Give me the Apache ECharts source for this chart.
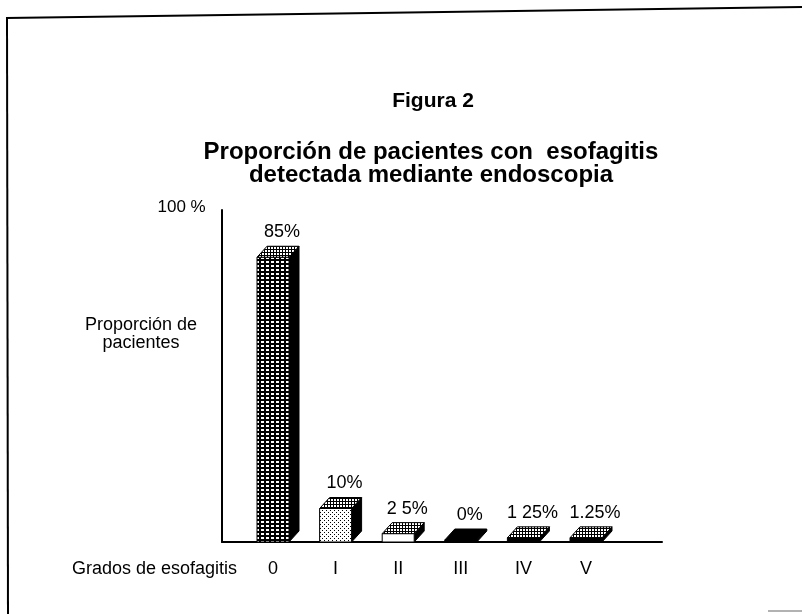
<!DOCTYPE html>
<html>
<head>
<meta charset="utf-8">
<script src="https://cdn.jsdelivr.net/npm/echarts@6/dist/echarts.min.js"></script>
<style>
html,body{margin:0;padding:0;background:#fff;}
#chart{width:802px;height:614px;}
</style>
</head>
<body>
<div id="chart"></div>
<script>
// ---- data ----
const categories = ['0', 'I', 'II', 'III', 'IV', 'V'];
const values = [85, 10, 2.5, 0, 1.25, 1.25];
const valueLabels = ['85%', '10%', '2 5%', '0%', '1 25%', '1.25%'];
const yMaxLabel = '100 %';
const titleText = 'Figura 2';
const subtitleLines = ['Proporción de pacientes con  esofagitis', 'detectada mediante endoscopia'];
const yAxisTitle = ['Proporción de', 'pacientes'];
const xAxisTitle = 'Grados de esofagitis';

// ---- styles ----
const FONT = '"Liberation Sans", Arial, Helvetica, sans-serif';
function makePattern(w, h, draw) {
  const c = document.createElement('canvas');
  c.width = w; c.height = h;
  const g = c.getContext('2d');
  draw(g);
  return { image: c, repeat: 'repeat' };
}
const patterns = {
  dense: makePattern(5, 4, g => { g.fillStyle = '#000'; g.fillRect(0,0,5,4); g.fillStyle = '#fff'; g.fillRect(1,1,3,2); }),
  hatch: makePattern(3, 3, g => { g.fillStyle = '#000'; g.fillRect(0,0,3,3); g.fillStyle = '#fff'; g.fillRect(1,1,2,2); }),
  stipple: makePattern(4, 4, g => { g.fillStyle = '#fff'; g.fillRect(0,0,4,4); g.fillStyle = '#000'; g.fillRect(0,0,1,1); g.fillRect(2,2,1,1); }),
  white: '#fff',
  black: '#000'
};
const faceStyles = [
  { front: 'dense', top: 'hatch' },
  { front: 'stipple', top: 'hatch' },
  { front: 'white', top: 'hatch' },
  { front: 'black', top: 'black' },
  { front: 'black', top: 'hatch' },
  { front: 'black', top: 'hatch' }
];
const BAR_W = 32, DX = 10, DY = -11, MIN_H = 2;

const chart = echarts.init(document.getElementById('chart'), null, { renderer: 'canvas' });

function renderBar(params, api) {
  const i = params.dataIndex;
  const top = api.coord([api.value(0), api.value(1)]);
  const base = api.coord([api.value(0), 0]);
  const xl = top[0] - BAR_W / 2;
  const xr = xl + BAR_W;
  const yb = base[1];
  const yt = Math.min(top[1], yb - MIN_H);
  const st = faceStyles[i];
  const stroke = { stroke: '#000', lineWidth: 1 };
  return {
    type: 'group',
    children: [
      { type: 'polygon', shape: { points: [[xr, yt], [xr + DX, yt + DY], [xr + DX, yb + DY], [xr, yb]] },
        style: Object.assign({ fill: '#000' }, stroke) },
      { type: 'rect', shape: { x: xl, y: yt, width: BAR_W, height: yb - yt },
        style: Object.assign({ fill: patterns[st.front] }, stroke) },
      { type: 'polygon', shape: { points: [[xl, yt], [xr, yt], [xr + DX, yt + DY], [xl + DX, yt + DY]] },
        style: Object.assign({ fill: patterns[st.top] }, stroke) },
      { type: 'text', style: { text: valueLabels[i], x: top[0] + 9, y: yt + DY - 14,
        textAlign: 'center', textVerticalAlign: 'middle', font: '18px ' + FONT, fill: '#000' } }
    ]
  };
}

const option = {
  backgroundColor: '#fff',
  animation: false,
  grid: [
    { left: 241.7, width: 375.6, top: 207, bottom: 72, containLabel: false },
    { left: 222, right: 140, top: 210, bottom: 72, containLabel: false }
  ],
  xAxis: [
    { type: 'category', gridIndex: 0, data: categories, boundaryGap: true,
      axisLine: { show: false }, axisTick: { show: false },
      axisLabel: { color: '#000', fontSize: 18, fontFamily: FONT, margin: 18 } },
    { type: 'value', gridIndex: 1, min: 0, max: 1,
      axisLine: { show: true, lineStyle: { color: '#000', width: 2 } },
      axisTick: { show: false }, axisLabel: { show: false }, splitLine: { show: false } }
  ],
  yAxis: [
    { type: 'value', gridIndex: 0, min: 0, max: 100, interval: 100,
      axisLine: { show: false }, axisTick: { show: false }, splitLine: { show: false },
      axisLabel: { color: '#000', fontSize: 17, fontFamily: FONT, margin: 36,
        formatter: v => (v === 100 ? yMaxLabel : '') } },
    { type: 'value', gridIndex: 1, min: 0, max: 1,
      axisLine: { show: true, lineStyle: { color: '#000', width: 2 } },
      axisTick: { show: false }, axisLabel: { show: false }, splitLine: { show: false } }
  ],
  series: [
    { type: 'custom', xAxisIndex: 0, yAxisIndex: 0, clip: false,
      renderItem: renderBar,
      encode: { x: 0, y: 1 },
      data: values.map((v, i) => [i, v]) }
  ],
  graphic: [
    { type: 'polyline', shape: { points: [[6, 18], [300, 14], [802, 7]] }, style: { stroke: '#000', lineWidth: 2, fill: null } },
    { type: 'line', shape: { x1: 7, y1: 17, x2: 8, y2: 614 }, style: { stroke: '#000', lineWidth: 2 } },
    { type: 'line', shape: { x1: 768, y1: 611, x2: 802, y2: 611 }, style: { stroke: '#999', lineWidth: 1.5 } },
    { type: 'text', style: { text: titleText, x: 433, y: 101, textAlign: 'center', textVerticalAlign: 'middle',
      font: 'bold 21px ' + FONT, fill: '#000' } },
    { type: 'text', style: { text: subtitleLines.join('\n'), x: 431, y: 164, textAlign: 'center', textVerticalAlign: 'middle',
      font: 'bold 24px ' + FONT, lineHeight: 23, fill: '#000' } },
    { type: 'text', style: { text: yAxisTitle.join('\n'), x: 141, y: 334, textAlign: 'center', textVerticalAlign: 'middle',
      font: '18px ' + FONT, lineHeight: 18, fill: '#000' } },
    { type: 'text', style: { text: xAxisTitle, x: 72, y: 569, textAlign: 'left', textVerticalAlign: 'middle',
      font: '18px ' + FONT, fill: '#000' } }
  ]
};
chart.setOption(option);
</script>
</body>
</html>
